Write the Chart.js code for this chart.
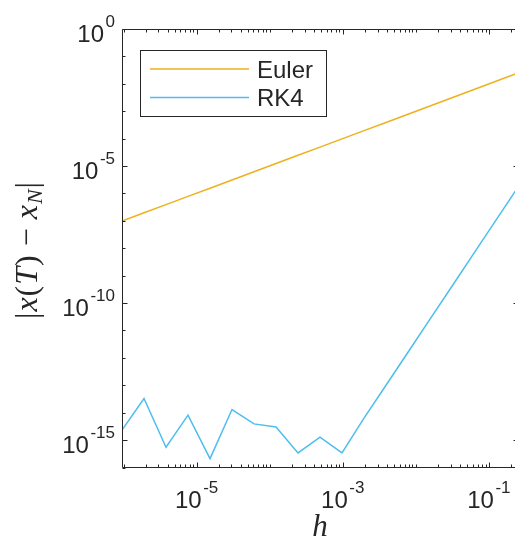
<!DOCTYPE html>
<html>
<head>
<meta charset="utf-8">
<script src="https://cdn.jsdelivr.net/npm/chart.js@4.4.1/dist/chart.umd.min.js"></script>
<style>
  html, body { margin: 0; padding: 0; background: #fff; overflow: hidden; }
  #wrap { width: 520px; height: 541px; }
</style>
</head>
<body>
<div id="wrap"><canvas id="myChart" width="520" height="541"></canvas></div>
<script>
// step sizes h = 2^-2 ... 2^-20
const stepSizes = [0.25, 0.125, 0.0625, 0.03125, 0.015625, 0.0078125, 0.00390625,
  0.001953125, 0.0009765625, 0.00048828125, 0.000244140625, 0.0001220703125,
  6.103515625e-5, 3.0517578125e-5, 1.52587890625e-5, 7.62939453125e-6,
  3.814697265625e-6, 1.9073486328125e-6, 9.5367431640625e-7];
const eulerErr = [2.47e-2, 1.24e-2, 6.2e-3, 3.1e-3, 1.56e-3, 7.8e-4, 3.9e-4, 1.96e-4,
  9.8e-5, 4.9e-5, 2.46e-5, 1.23e-5, 6.2e-6, 3.1e-6, 1.55e-6, 7.8e-7, 3.9e-7, 1.97e-7, 9.9e-8];
const rk4Err = [1.7e-6, 1.06e-7, 6.6e-9, 4.1e-10, 2.6e-11, 1.6e-12, 1.0e-13, 6.3e-15,
  3.4e-16, 1.27e-15, 3.4e-16, 3.0e-15, 3.9e-15, 1.3e-14, 2.1e-16, 8.1e-15, 5.5e-16, 3.3e-14, 2.3e-15];
const seriesNames = ["Euler", "RK4"];
const xTickExps = [-5, -3, -1];
const yTickExps = [0, -5, -10, -15];

const axisColor = "#262626";
const eulerColor = "#EDB120";
const rk4Color = "#4DBEEE";

const toPoints = (ys) => stepSizes.map((h, i) => ({ x: h, y: ys[i] }));

// draws "10" with a raised exponent
function drawPow(ctx, exp, x, y, align) {
  const base = "10", sup = String(exp);
  ctx.font = "24px 'Liberation Sans', Arial, sans-serif";
  const wb = ctx.measureText(base).width + 1.5;
  ctx.font = "17px 'Liberation Sans', Arial, sans-serif";
  const ws = ctx.measureText(sup).width;
  const w = wb + ws;
  let x0 = x;
  if (align === "center") x0 = x - w / 2;
  if (align === "right") x0 = x - w;
  ctx.textAlign = "left";
  ctx.textBaseline = "alphabetic";
  ctx.font = "24px 'Liberation Sans', Arial, sans-serif";
  ctx.fillText(base, x0, y);
  ctx.font = "17px 'Liberation Sans', Arial, sans-serif";
  ctx.fillText(sup, x0 + wb, y - 15);
}

const matlabAxes = {
  id: "matlabAxes",
  afterDraw(chart) {
    const ctx = chart.ctx;
    const xs = chart.scales.x, ys = chart.scales.y;
    const a = chart.chartArea;
    const L = Math.floor(a.left) + 0.5, R = Math.floor(a.right) + 0.5;
    const T = Math.floor(a.top) + 0.5, B = Math.floor(a.bottom) + 0.5;
    ctx.save();
    ctx.strokeStyle = axisColor;
    ctx.fillStyle = axisColor;
    ctx.lineWidth = 1;
    ctx.beginPath();
    ctx.rect(L, T, R - L, B - T);
    ctx.stroke();

    // x ticks, inward on bottom and top
    ctx.beginPath();
    for (let d = -7; d <= 0; d++) {
      for (let m = 1; m <= 9; m++) {
        const v = m * Math.pow(10, d);
        if (v < xs.min * 0.999 || v > xs.max * 1.001) continue;
        const px = Math.round(xs.getPixelForValue(v)) + 0.5;
        const len = (m === 1 && xTickExps.includes(d)) ? 5 : 3;
        ctx.moveTo(px, B); ctx.lineTo(px, B - len);
        ctx.moveTo(px, T); ctx.lineTo(px, T + len);
      }
    }
    // y ticks, inward on left and right
    for (let d = -16; d <= 0; d++) {
      const py = Math.round(ys.getPixelForValue(Math.pow(10, d))) + 0.5;
      const len = yTickExps.includes(d) ? 5 : 3;
      ctx.moveTo(L, py); ctx.lineTo(L + len, py);
      ctx.moveTo(R, py); ctx.lineTo(R - len, py);
    }
    ctx.stroke();

    // tick labels
    xTickExps.forEach((e) => {
      drawPow(ctx, e, xs.getPixelForValue(Math.pow(10, e)), a.bottom + 40, "center");
    });
    yTickExps.forEach((e) => {
      drawPow(ctx, e, a.left - 7, ys.getPixelForValue(Math.pow(10, e)) + 13, "right");
    });

    // x label
    ctx.font = "italic 31px 'Liberation Serif', 'Times New Roman', serif";
    ctx.textAlign = "center";
    ctx.fillText("h", (a.left + a.right) / 2, 536);

    // y label |x(T) - x_N|
    const parts = [
      { t: "|", f: "32px" }, { t: "x", f: "italic 32px" }, { t: "(", f: "32px" },
      { t: "T", f: "italic 32px" }, { t: ")", f: "32px" }, { t: " \u2212 ", f: "32px" },
      { t: "x", f: "italic 32px" }, { t: "N", f: "italic 22px", sub: true }, { t: "|", f: "32px" },
    ];
    const fam = " 'Liberation Serif', 'Times New Roman', serif";
    let total = 0;
    parts.forEach((p) => { ctx.font = p.f + fam; p.w = ctx.measureText(p.t).width + 1; total += p.w; });
    ctx.translate(37, 250);
    ctx.rotate(-Math.PI / 2);
    ctx.textAlign = "left";
    let cx = -total / 2;
    parts.forEach((p) => {
      ctx.font = p.f + fam;
      ctx.fillText(p.t, cx, p.sub ? 5 : 0);
      cx += p.w;
    });
    ctx.setTransform(1, 0, 0, 1, 0, 0);

    // legend
    const lx = 140.5, ly = 50.5, lw = 186, lh = 66;
    ctx.fillStyle = "#fff";
    ctx.fillRect(lx, ly, lw, lh);
    ctx.strokeStyle = axisColor;
    ctx.strokeRect(lx, ly, lw, lh);
    const rows = [[seriesNames[0], eulerColor, 69], [seriesNames[1], rk4Color, 97.5]];
    ctx.font = "24px 'Liberation Sans', Arial, sans-serif";
    ctx.textAlign = "left";
    rows.forEach(([name, col, y]) => {
      ctx.strokeStyle = col;
      ctx.lineWidth = 1.5;
      ctx.beginPath();
      ctx.moveTo(150, y); ctx.lineTo(249, y);
      ctx.stroke();
      ctx.fillStyle = axisColor;
      ctx.fillText(name, 257, y + 8.5);
    });
    ctx.restore();
  },
};

const chart = new Chart(document.querySelector("#myChart"), {
  type: "line",
  data: {
    datasets: [
      {
        label: seriesNames[0],
        data: toPoints(eulerErr),
        borderColor: eulerColor,
        borderWidth: 1.5,
        pointRadius: 0,
        tension: 0,
      },
      {
        label: seriesNames[1],
        data: toPoints(rk4Err),
        borderColor: rk4Color,
        borderWidth: 1.5,
        pointRadius: 0,
        tension: 0,
      },
    ],
  },
  options: {
    responsive: false,
    animation: false,
    layout: { padding: { top: 29, right: 2, left: 0, bottom: 0 } },
    plugins: { legend: { display: false }, tooltip: { enabled: false } },
    scales: {
      x: {
        type: "logarithmic",
        min: stepSizes[stepSizes.length - 1],
        max: stepSizes[0],
        grid: { display: false },
        border: { display: false },
        ticks: { display: false },
        afterFit: (s) => { s.height = 73.5; },
      },
      y: {
        type: "logarithmic",
        min: 1e-16,
        max: 1,
        grid: { display: false },
        border: { display: false },
        ticks: { display: false },
        afterFit: (s) => { s.width = 122; },
      },
    },
  },
  plugins: [matlabAxes],
});
</script>
</body>
</html>
